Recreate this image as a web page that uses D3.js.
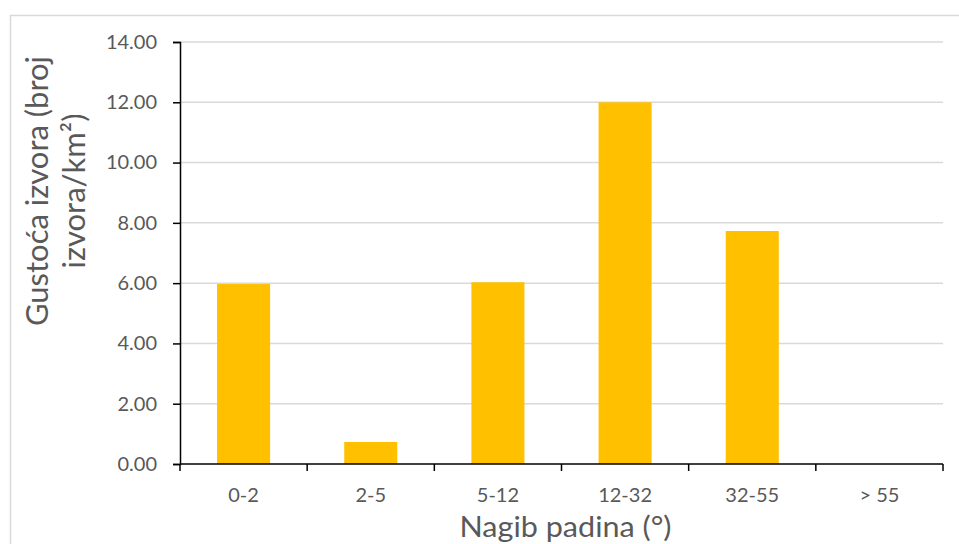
<!DOCTYPE html>
<html>
<head>
<meta charset="utf-8">
<script src="https://cdn.jsdelivr.net/npm/d3@7"></script>
<style>
  html, body { margin: 0; padding: 0; background: #fff; }
  svg { display: block; font-family: Lato, "Open Sans", sans-serif; }
</style>
</head>
<body>
<svg id="chart" width="959" height="544"></svg>
<script>
const categories = ["0-2", "2-5", "5-12", "12-32", "32-55", "> 55"];
const values = [5.97, 0.73, 6.03, 12.0, 7.73, 0];
const yTicks = [0, 2, 4, 6, 8, 10, 12, 14];
const yTitleLines = ["Gustoća izvora (broj", "izvora/km²)"];
const xTitle = "Nagib padina (°)";

const svg = d3.select("#chart");
const pLeft = 180, pRight = 943, pTop = 42, pBottom = 464;

// outer chart border
svg.append("rect")
  .attr("x", 10.5).attr("y", 15.5)
  .attr("width", 1000).attr("height", 600)
  .attr("fill", "none").attr("stroke", "#d9d9d9").attr("stroke-width", 1.5);

const x = d3.scaleBand().domain(categories).range([pLeft, pRight])
  .paddingInner(0.583).paddingOuter(0.2915);
const y = d3.scaleLinear().domain([0, 14]).range([pBottom, pTop]);

// gridlines
svg.append("g").selectAll("line").data(yTicks.filter(d => d > 0)).join("line")
  .attr("x1", pLeft).attr("x2", pRight)
  .attr("y1", d => y(d)).attr("y2", d => y(d))
  .attr("stroke", "#d9d9d9").attr("stroke-width", 1.5);

// bars
svg.append("g").selectAll("rect").data(values).join("rect")
  .attr("x", (d, i) => x(categories[i]))
  .attr("width", x.bandwidth())
  .attr("y", d => y(d))
  .attr("height", d => pBottom - y(d))
  .attr("fill", "#FFC000");

// y axis
const yAxis = d3.axisLeft(y).tickValues(yTicks).tickFormat(d3.format(".2f"))
  .tickSize(7).tickPadding(16);
const gy = svg.append("g").attr("transform", `translate(${pLeft},0)`).call(yAxis);
gy.select(".domain").attr("stroke", "#000").attr("stroke-width", 1.5);
gy.selectAll(".tick line").attr("stroke", "#000").attr("stroke-width", 1.5);
gy.selectAll(".tick text").attr("fill", "#595959").style("font-size", "20px")
  .style("font-family", "Lato, sans-serif");

// x axis with boundary ticks
const gx = svg.append("g").attr("transform", `translate(0,${pBottom})`);
gx.append("line").attr("x1", pLeft).attr("x2", pRight).attr("y1", 0).attr("y2", 0)
  .attr("stroke", "#000").attr("stroke-width", 1.5);
const bounds = categories.map(c => x(c) - x.step() * x.paddingInner() / 2).concat([pRight]);
bounds[0] = pLeft;
gx.selectAll("line.tk").data(bounds).join("line").attr("class", "tk")
  .attr("x1", d => d).attr("x2", d => d).attr("y1", 0).attr("y2", 7)
  .attr("stroke", "#000").attr("stroke-width", 1.5);
gx.selectAll("text").data(categories).join("text")
  .attr("x", d => x(d) + x.bandwidth() / 2)
  .attr("y", 38)
  .attr("text-anchor", "middle")
  .attr("fill", "#595959").style("font-size", "20px")
  .text(d => d);

// x title
svg.append("text")
  .attr("x", (pLeft + pRight) / 2 + 4).attr("y", 537)
  .attr("text-anchor", "middle").attr("fill", "#595959")
  .attr("textLength", 212).attr("lengthAdjust", "spacingAndGlyphs")
  .style("font-size", "29px").text(xTitle);

// y title
const yt = svg.append("text")
  .attr("transform", "translate(48,191) rotate(-90)")
  .attr("text-anchor", "middle").attr("fill", "#595959")
  .style("font-size", "31px");
yt.selectAll("tspan").data(yTitleLines).join("tspan")
  .attr("x", 0).attr("dy", (d, i) => i === 0 ? 0 : 37)
  .text(d => d);
</script>
</body>
</html>
